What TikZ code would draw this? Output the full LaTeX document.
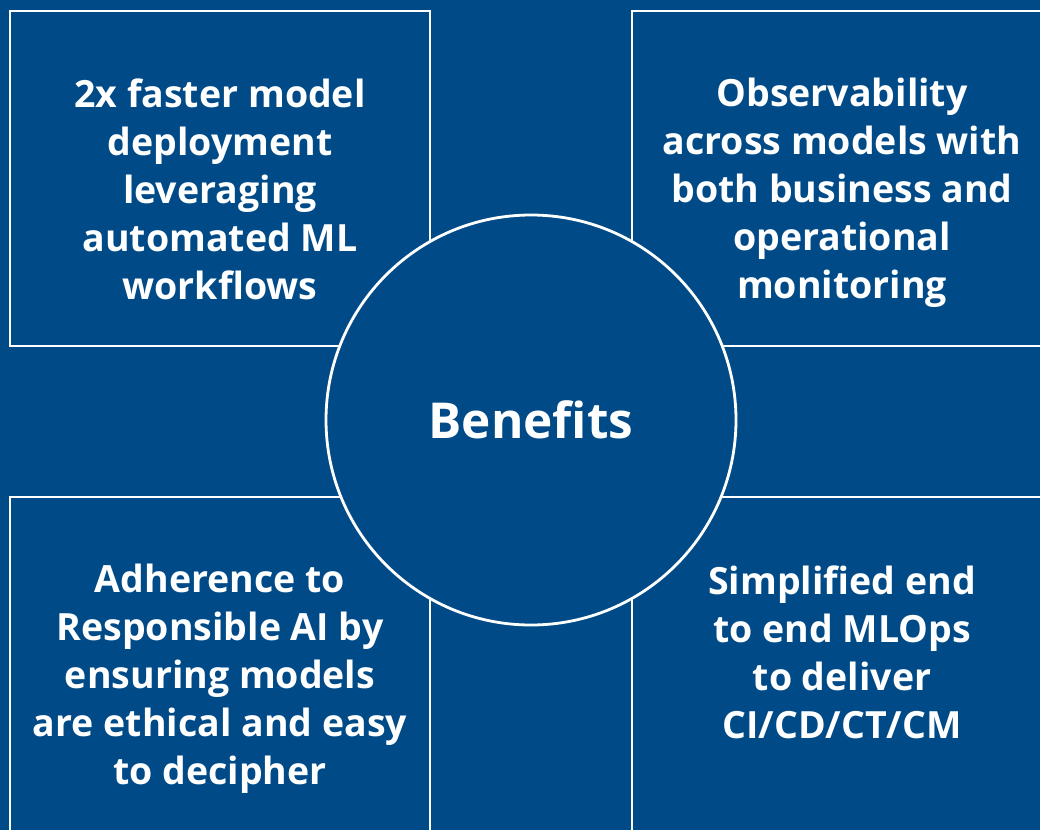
\documentclass[tikz,border=0pt]{standalone}
\usepackage{fontspec}
\setmainfont{Open Sans}
\usetikzlibrary{positioning}
\definecolor{mblue}{RGB}{0,75,135}
\tikzset{panel/.style = {draw=white, line width=2.8pt}}
\tikzset{paneltext/.style = {text=white, align=center,
                             font=\bfseries\fontsize{37.5}{48}\selectfont}}

\begin{document}
\begin{tikzpicture}[x=1pt, y=-1pt]
      \fill [mblue] (0, 0) rectangle (1040, 830);
      \useasboundingbox (0, 0) rectangle (1040, 830);

      % the four panels, the outer ones run off the page
      \draw [panel] (10, 11) rectangle (430, 346);
      \draw [panel] (632, 11) rectangle (1060, 346);
      \draw [panel] (10, 497) rectangle (430, 850);
      \draw [panel] (632, 497) rectangle (1060, 850);

      \node [paneltext] (speed) at (220, 189) {2x faster model\\deployment\\leveraging\\automated ML\\workflows};
      \node [paneltext] (observe) at (842, 193) {Observability\\across models with\\both business and\\operational\\monitoring};
      \node [paneltext] (responsible) at (220, 679) {Adherence to\\Responsible AI by\\ensuring models\\are ethical and easy\\to decipher};
      \node [paneltext] (mlops) at (842, 652) {Simplified end\\to end MLOps\\to deliver\\CI/CD/CT/CM};

      \node [circle, panel, fill=mblue, minimum size=410pt, text=white,
             font=\bfseries\fontsize{49.5}{55}\selectfont] (benefits) at (531, 420) {Benefits};
    \end{tikzpicture}
\end{document}
